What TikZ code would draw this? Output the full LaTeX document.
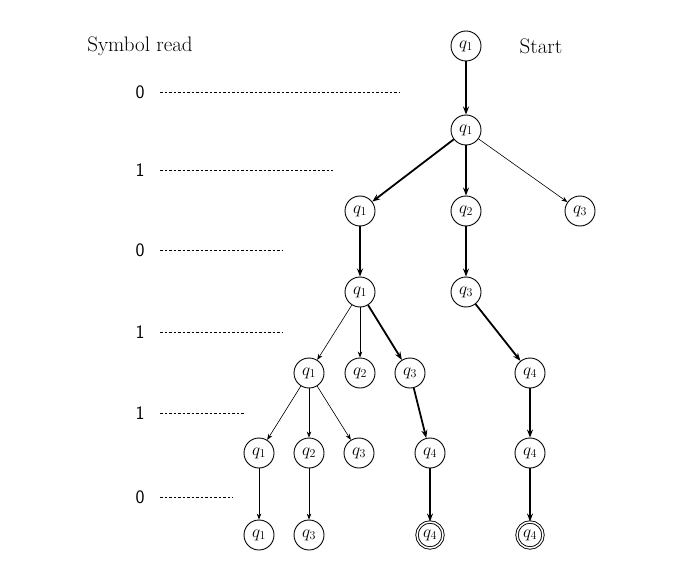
\documentclass[tikz,border=0pt]{standalone}
\usetikzlibrary{arrows.meta}
\begin{document}
\begin{tikzpicture}[x=1pt,y=-1pt,
 st/.style={circle,draw,line width=0.9pt,minimum size=30pt,inner sep=0pt,font=\fontsize{17}{19}\selectfont},
 acc/.style={st,double,double distance=1.5pt,minimum size=26pt},
 thin/.style={-{Stealth[length=6pt]},line width=0.6pt},
 thick/.style={-{Stealth[length=8pt]},line width=1.8pt},
 lv/.style={dash pattern=on 2.5pt off 2pt,line width=0.5pt},
 lab/.style={font=\sffamily\fontsize{19}{21}\selectfont}]
\useasboundingbox (0,0) rectangle (674,580);
\node[font=\fontsize{21}{23}\selectfont] (sr) at (140,46) {Symbol read};
\node[font=\fontsize{21}{23}\selectfont] (stt) at (541,46) {Start};
\node[st] (a) at (466,46) {$q_1$};
\node[st] (b) at (466,130) {$q_1$};
\node[st] (c1) at (360,211) {$q_1$};
\node[st] (c2) at (466,211) {$q_2$};
\node[st] (c3) at (580,211) {$q_3$};
\node[st] (d1) at (360,292) {$q_1$};
\node[st] (d2) at (466,292) {$q_3$};
\node[st] (e1) at (309,373) {$q_1$};
\node[st] (e2) at (360,373) {$q_2$};
\node[st] (e3) at (410,373) {$q_3$};
\node[st] (e4) at (530,373) {$q_4$};
\node[st] (f1) at (259,453) {$q_1$};
\node[st] (f2) at (309,453) {$q_2$};
\node[st] (f3) at (359,453) {$q_3$};
\node[st] (f4) at (430,453) {$q_4$};
\node[st] (f5) at (530,453) {$q_4$};
\node[st] (g1) at (259,535) {$q_1$};
\node[st] (g2) at (309,535) {$q_3$};
\node[acc] (g3) at (430,535) {$q_4$};
\node[acc] (g4) at (530,535) {$q_4$};
\draw[thick] (a)--(b);
\draw[thick] (b)--(c1);
\draw[thick] (b)--(c2);
\draw[thin] (b)--(c3);
\draw[thick] (c1)--(d1);
\draw[thick] (c2)--(d2);
\draw[thin] (d1)--(e1);
\draw[thin] (d1)--(e2);
\draw[thick] (d1)--(e3);
\draw[thick] (d2)--(e4);
\draw[thin] (e1)--(f1);
\draw[thin] (e1)--(f2);
\draw[thin] (e1)--(f3);
\draw[thick] (e3)--(f4);
\draw[thick] (e4)--(f5);
\draw[thin] (f1)--(g1);
\draw[thin] (f2)--(g2);
\draw[thick] (f4)--(g3);
\draw[thick] (f5)--(g4);
\foreach \s/\y/\e [count=\i] in {0/92/400,1/170/333,0/250/283,1/332/283,1/413/245,0/497/233}{
 \node[lab] (l\i) at (140,\y) {\s};
 \coordinate (m\i) at (\e,\y);
 \draw[lv] (160,\y) -- (m\i);
}
\end{tikzpicture}
\end{document}
